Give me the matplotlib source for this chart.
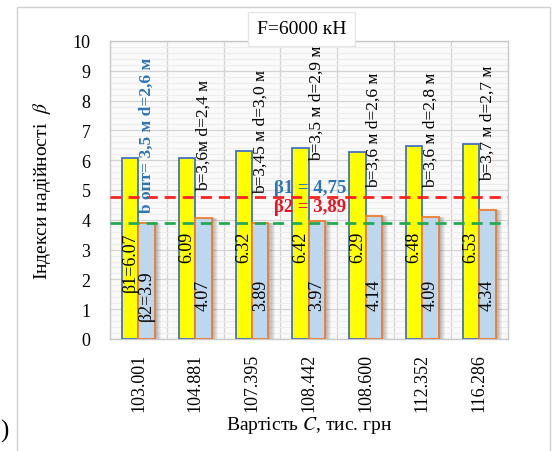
import matplotlib
matplotlib.use("Agg")
import matplotlib.pyplot as plt
import numpy as np
from matplotlib.patches import Rectangle

plt.rcParams["font.family"] = ["Liberation Serif", "DejaVu Serif"]
plt.rcParams["mathtext.fontset"] = "stix"

costs = ["103.001", "104.881", "107.395", "108.442", "108.600", "112.352", "116.286"]
beta1 = [6.07, 6.09, 6.32, 6.42, 6.29, 6.48, 6.53]
beta2 = [3.90, 4.07, 3.89, 3.97, 4.14, 4.09, 4.34]
sizes = ["b опт= 3,5 м d=2,6 м", "b=3,6м d=2,4 м", "b=3,45 м d=3,0 м",
         "b=3,5 м d=2,9 м", "b=3,6 м d=2,6 м", "b=3,6 м d=2,8 м", "b=3,7 м d=2,7 м"]
beta1_req = 4.75
beta2_req = 3.89

fig = plt.figure(figsize=(5.54, 4.52), dpi=100)
ax = fig.add_axes([0.1986, 0.2478, 0.7175, 0.6593])

x = np.arange(len(costs))
w = 0.29

# soft shadow to the right of the second bar
for k in range(6):
    ax.bar(x + w + k * 0.018, beta2, width=0.018, align="edge",
           color="#606060", alpha=0.5 * (1 - k / 6), zorder=2, linewidth=0)

ax.bar(x - w, beta1, width=w, align="edge", color="#FFFF00",
       edgecolor="#4472C4", linewidth=1.3, zorder=3)
ax.bar(x, beta2, width=w, align="edge", color="#BDD7EE",
       edgecolor="#ED7D31", linewidth=1.3, zorder=3)

ax.axhline(beta1_req, color="#FF2020", lw=2, dashes=(4, 2.5), zorder=4)
ax.axhline(beta2_req, color="#22AA55", lw=2, dashes=(4, 2.5), zorder=4)

# values inside the bars
for i in range(len(x)):
    t1 = f"{beta1[i]:.2f}" if i else f"β1={beta1[i]:.2f}"
    t2 = f"{beta2[i]:.2f}" if i else f"β2={beta2[i]:.1f}"
    y1 = 2.6 if i == 0 else 3.1
    ax.text(x[i] - w / 2, y1, t1, rotation=90, ha="center", va="center",
            fontsize=13, zorder=5)
    ax.text(x[i] + w / 2, 1.5, t2, rotation=90, ha="center", va="center",
            fontsize=13, zorder=5)

# geometry of each variant
text_bottom = [4.25, 5.0, 4.9, 6.0, 5.1, 5.1, 5.35]
for i in range(len(x)):
    if i == 0:
        ax.text(x[i] + w / 2, text_bottom[i], sizes[i], rotation=90, ha="center",
                va="bottom", fontsize=12.5, color="#2E75B6", fontweight="bold", zorder=5)
    else:
        ax.text(x[i] + w / 2, text_bottom[i], sizes[i], rotation=90, ha="center",
                va="bottom", fontsize=12.5, zorder=5)

ax.text(3.02, 5.07, f"β1 = {beta1_req:.2f}".replace(".", ","), ha="center", va="center",
        fontsize=13.5, fontweight="bold", color="#2E75B6", zorder=6)
ax.text(3.02, 4.45, f"β2 = {beta2_req:.2f}".replace(".", ","), ha="center", va="center",
        fontsize=13.5, fontweight="bold", color="#EE1122", zorder=6)

ax.set_xlim(-0.5, 6.5)
ax.set_ylim(0, 10)
ax.set_xticks(x)
ax.set_xticklabels(costs, rotation=90, fontsize=13)
ax.set_yticks(range(0, 11))
ax.set_yticklabels([str(v) for v in range(0, 11)], fontsize=13)
ax.tick_params(length=0, pad=14)
ax.tick_params(axis="x", pad=10)

ax.set_yticks(np.arange(0, 10, 0.2), minor=True)
ax.tick_params(which="minor", length=0)
ax.grid(axis="y", which="minor", color="#EDEDED", lw=0.8, zorder=0)
ax.grid(axis="y", which="major", color="#D4D4D4", lw=0.9, zorder=0)
for b in x[:-1] + 0.5:
    ax.axvline(b, color="#D4D4D4", lw=0.9, zorder=0)
ax.set_axisbelow(True)
ax.set_facecolor("#FAFAFA")
for s in ax.spines.values():
    s.set_color("#C8C8C8")
    s.set_linewidth(1)

ax.set_ylabel("Індекси надійності  $\\beta$", fontsize=14, labelpad=14)
ax.set_xlabel("Вартість $C$, тис. грн", fontsize=14, labelpad=2)

fig.text(0.545, 0.934, "F=6000 кН", ha="center", va="center", fontsize=14,
         bbox=dict(boxstyle="square,pad=0.45", fc="white", ec="#E6E6E6", lw=1), zorder=10)

# chart frame
fig.patches.append(Rectangle((17 / 554, -0.01), (550 - 17) / 554, 1 - 8 / 452 + 0.01,
                             transform=fig.transFigure, fill=False, ec="#D0D0D0", lw=1))
fig.text(0.0, 0.02, ")", fontsize=18, ha="left", va="bottom")

fig.savefig("out.png", dpi=100)
